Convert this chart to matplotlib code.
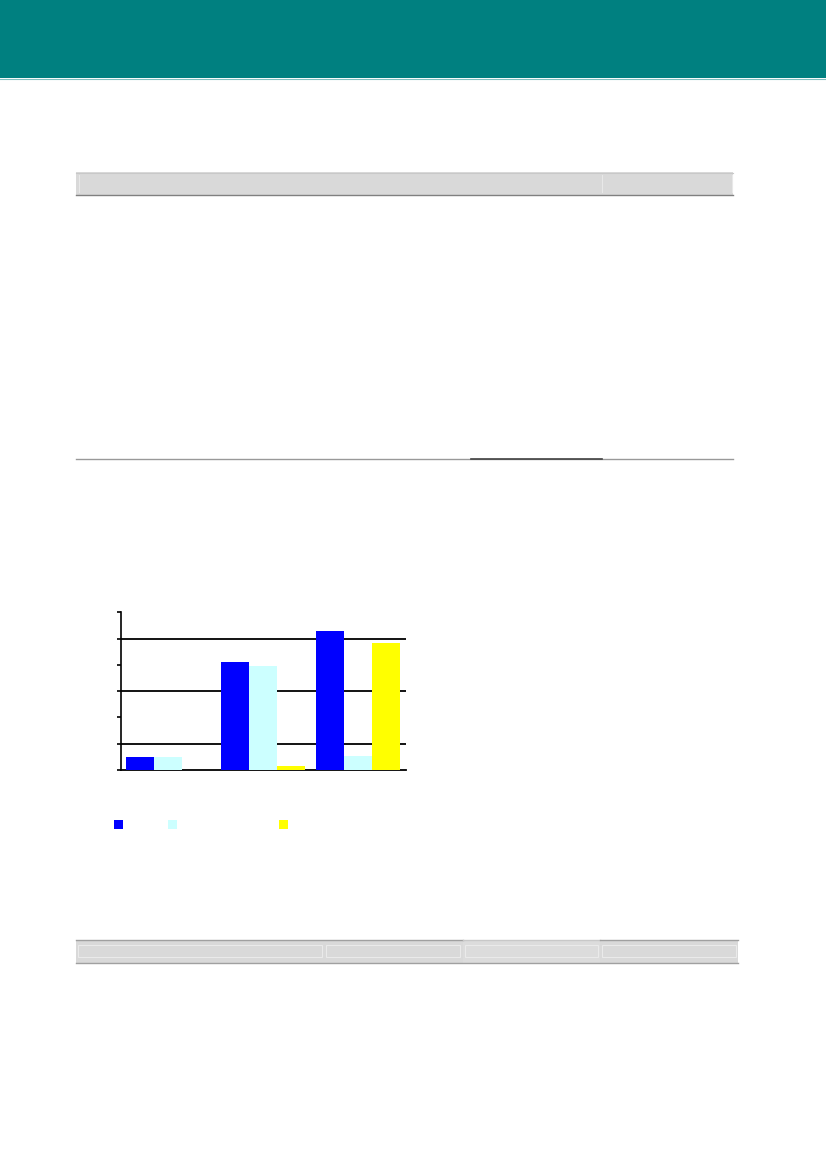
import matplotlib
matplotlib.use("Agg")
import matplotlib.pyplot as plt
from matplotlib.patches import Rectangle
from matplotlib.lines import Line2D
import numpy as np

# ---- data ----
categories = ["", "", ""]
series_a = [0.50, 4.10, 5.30]   # blue
series_b = [0.50, 3.95, 0.54]   # light cyan
series_c = [0.00, 0.16, 4.82]   # yellow
y_ticks = [0, 1, 2, 3, 4, 5, 6]
grid_values = [1, 3, 5]

colors = ["#0000FF", "#CCFFFF", "#FFFF00"]

W, H = 826, 1169
fig = plt.figure(figsize=(W / 100, H / 100), dpi=100)
fig.patch.set_facecolor("white")


def fx(x):
    return x / W


def fy(y):
    return 1 - y / H


def rect(x0, y0, x1, y1, **kw):
    fig.add_artist(Rectangle((fx(x0), fy(y1)), fx(x1) - fx(x0), fy(y0) - fy(y1),
                             transform=fig.transFigure, **kw))


def hline(x0, x1, y, color, lw=1.0):
    fig.add_artist(Line2D([fx(x0), fx(x1)], [fy(y), fy(y)], transform=fig.transFigure,
                          color=color, lw=lw))


def vline(x, y0, y1, color, lw=1.0):
    fig.add_artist(Line2D([fx(x), fx(x)], [fy(y0), fy(y1)], transform=fig.transFigure,
                          color=color, lw=lw))


# header band
rect(0, 0, W, 78, facecolor="#008080", edgecolor="none")
hline(0, W, 78.5, "#7fbfbf", 0.8)

# top table header bar
rect(76, 172, 733, 195, facecolor="#D9D9D9", edgecolor="none")
hline(76, 733, 172.5, "#C8C8C8", 0.8)
hline(76, 733, 195, "#808080", 1.0)
for xv in [78.5, 602, 731.5]:
    vline(xv, 175, 192, "#E8E8E8", 0.8)

# separator line
hline(76, 733, 459.3, "#999999", 1.0)
hline(471, 601.5, 459.3, "#444444", 1.2)

# bottom table header bar
rect(76, 940, 738, 963, facecolor="#D9D9D9", edgecolor="none")
rect(462.5, 940, 600, 963, facecolor="#DCDCDC", edgecolor="none")
hline(76, 462.5, 940, "#A0A0A0", 1.0)
hline(462.5, 600, 940, "#C8C8C8", 1.0)
hline(600, 738, 940, "#A0A0A0", 1.0)
hline(76, 738, 963, "#A0A0A0", 1.0)
for (a, b) in [(78, 322), (326, 460), (465, 598), (602, 736)]:
    rect(a, 945, b, 957, facecolor="none", edgecolor="#EAEAEA", lw=0.8)

# ---- bar chart ----
ax_left, ax_right, ax_top, ax_bottom = 121, 405.7, 612.3, 770
ax = fig.add_axes([fx(ax_left), fy(ax_bottom), fx(ax_right) - fx(ax_left),
                   fy(ax_top) - fy(ax_bottom)])
n = len(categories)
x = np.arange(n) + 0.5
bw = 28 / 95
series = [series_a, series_b, series_c]
for i, (vals, c) in enumerate(zip(series, colors)):
    ax.bar(x + (i - 1) * bw, vals, width=bw, color=c, edgecolor="none", zorder=3)

ax.set_xlim(0, n)
ax.set_ylim(0, 6)
ax.hlines(grid_values, 0, n, colors="black", lw=1.3, zorder=2)
ax.set_yticks(y_ticks)
ax.set_yticklabels([])
ax.set_xticks([])
ax.tick_params(axis="y", direction="out", length=3, width=1.2, color="black")
for s in ["top", "right"]:
    ax.spines[s].set_visible(False)
ax.spines["left"].set_linewidth(1.2)
ax.spines["bottom"].set_linewidth(1.3)
ax.patch.set_alpha(0)

# legend keys (labels not shown in the reference)
for xl, c in zip([114.3, 168, 279.3], colors):
    rect(xl, 820, xl + 9, 829, facecolor=c, edgecolor="none")

fig.savefig("out.png", dpi=100)
